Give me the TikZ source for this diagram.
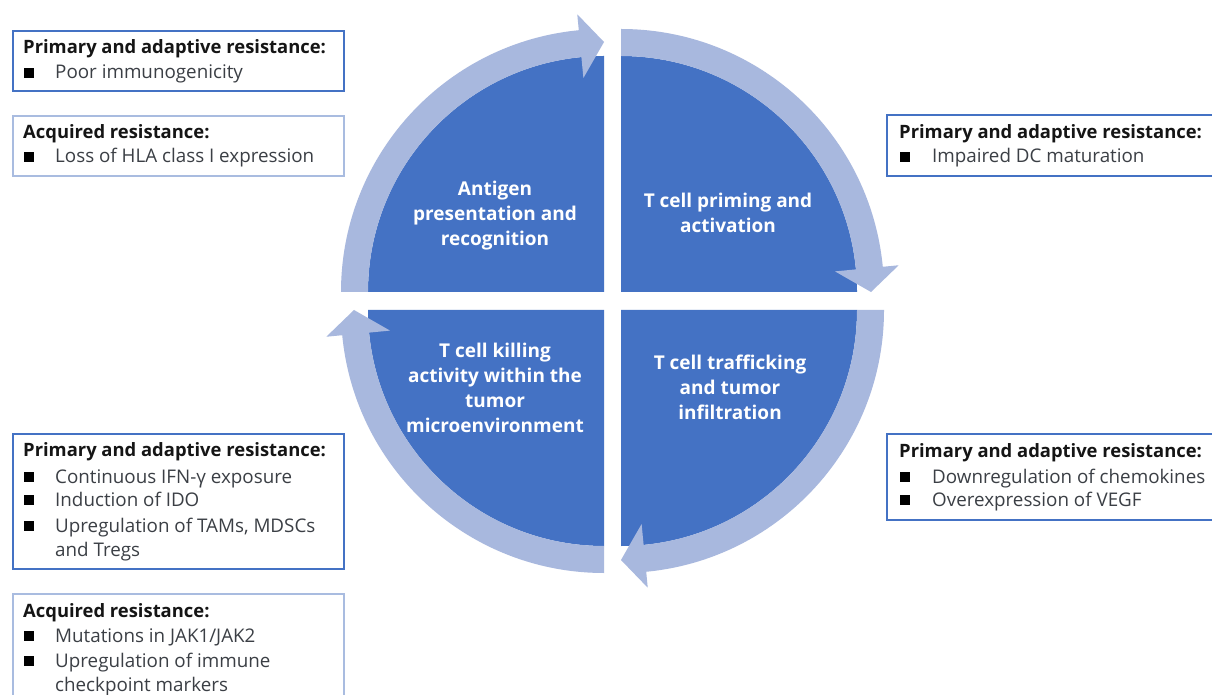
\documentclass[tikz,border=0pt]{standalone}
\usepackage{fontspec}
\setmainfont{Open Sans}
\definecolor{sectorblue}{HTML}{4472C4}
\definecolor{ringblue}{HTML}{A8B8DE}
\definecolor{boxdark}{HTML}{4472C4}
\definecolor{boxlight}{HTML}{A9BCE0}
\definecolor{itemgray}{HTML}{3B3F45}
\definecolor{titleblack}{HTML}{151515}

% curved ring segment of one quadrant, ending in an arrow head
% #1 centre, #2 start angle, #3 end angle (clockwise)
\newcommand\ringarrow[3]{%
  \pgfmathsetmacro\headbase{#3+5.5}%
  \fill[ringblue, shift={(#1)}]
    (#2:236pt) arc[start angle=#2, end angle=\headbase, radius=236pt]
    -- (\headbase:215pt) -- (#3:250pt) -- (\headbase:279pt)
    -- (\headbase:263pt) arc[start angle=\headbase, end angle=#2, radius=263pt]
    -- cycle;}

\begin{document}
\begin{tikzpicture}[x=1pt, y=1pt,
  box/.style={draw, line width=2pt, anchor=north west, inner sep=0pt},
  darkbox/.style={box, draw=boxdark},
  lightbox/.style={box, draw=boxlight},
  ttl/.style={anchor=base west, inner sep=0pt, text=titleblack,
    font=\fontsize{18.4}{20}\selectfont\bfseries},
  itm/.style={anchor=base west, inner sep=0pt, text=itemgray,
    font=\fontsize{18.8}{20}\selectfont},
  sq/.style={fill=black, minimum size=10pt, inner sep=0pt},
  stext/.style={align=center, text=white, inner sep=0pt,
    font=\fontsize{19}{25}\selectfont\bfseries}]

\useasboundingbox (0,0) rectangle (1212,694);
\clip (0,0) rectangle (1212,694);
\fill[white] (0,0) rectangle (1212,694);

% centres of the four quadrants
\coordinate (cTL) at (604,402);
\coordinate (cTR) at (621,402);
\coordinate (cBR) at (621,384);
\coordinate (cBL) at (604,384);

% quadrant sectors
\fill[sectorblue] (cTL) -- ++(180:236pt) arc[start angle=180, end angle=90, radius=236pt] -- cycle;
\fill[sectorblue] (cTR) -- ++(90:236pt) arc[start angle=90, end angle=0, radius=236pt] -- cycle;
\fill[sectorblue] (cBR) -- ++(0:236pt) arc[start angle=0, end angle=-90, radius=236pt] -- cycle;
\fill[sectorblue] (cBL) -- ++(-90:236pt) arc[start angle=-90, end angle=-180, radius=236pt] -- cycle;

% cycle arrows
\ringarrow{cTL}{180}{90}
\ringarrow{cTR}{90}{0}
\ringarrow{cBR}{0}{-90}
\ringarrow{cBL}{-90}{-180}

% quadrant labels
\node[stext] (sTL) at (495,478) {Antigen\\presentation and\\recognition};
\node[stext] (sTR) at (728,481) {T cell priming and\\activation};
\node[stext] (sBL) at (495,306) {T cell killing\\activity within the\\tumor\\microenvironment};
\node[stext] (sBR) at (730,307) {T cell trafficking\\and tumor\\infiltration};

% resistance boxes
\node[darkbox, minimum width=331pt, minimum height=60pt] (b1) at (12,664) {};
\node[lightbox, minimum width=331pt, minimum height=60pt] (b2) at (12,579) {};
\node[darkbox, minimum width=340pt, minimum height=61pt] (b3) at (886,580) {};
\node[darkbox, minimum width=331pt, minimum height=135pt] (b4) at (12,261) {};
\node[lightbox, minimum width=331pt, minimum height=120pt] (b5) at (12,101) {};
\node[darkbox, minimum width=340pt, minimum height=86pt] (b6) at (886,261) {};

% box 1
\node[ttl] (t1) at (23,640) {Primary and adaptive resistance:};
\node[sq] (q1a) at (29,621) {};
\node[itm] (i1a) at (55,615) {Poor immunogenicity};

% box 2
\node[ttl] (t2) at (23,555) {Acquired resistance:};
\node[sq] (q2a) at (29,537) {};
\node[itm] (i2a) at (55,531) {Loss of HLA class I expression};

% box 3
\node[ttl] (t3) at (899,555) {Primary and adaptive resistance:};
\node[sq] (q3a) at (905,537) {};
\node[itm] (i3a) at (932,531) {Impaired DC maturation};

% box 4
\node[ttl] (t4) at (23,238) {Primary and adaptive resistance:};
\node[sq] (q4a) at (29,217) {};
\node[itm] (i4a) at (55,211) {Continuous IFN-γ exposure};
\node[sq] (q4b) at (29,194) {};
\node[itm] (i4b) at (55,188) {Induction of IDO};
\node[sq] (q4c) at (29,168) {};
\node[itm] (i4c) at (55,162) {Upregulation of TAMs, MDSCs};
\node[itm] (i4d) at (55,138) {and Tregs};

% box 5
\node[ttl] (t5) at (23,77) {Acquired resistance:};
\node[sq] (q5a) at (29,58) {};
\node[itm] (i5a) at (55,52) {Mutations in JAK1/JAK2};
\node[sq] (q5b) at (29,33) {};
\node[itm] (i5b) at (55,27) {Upregulation of immune};
\node[itm] (i5c) at (55,3) {checkpoint markers};

% box 6
\node[ttl] (t6) at (899,237) {Primary and adaptive resistance:};
\node[sq] (q6a) at (905,217) {};
\node[itm] (i6a) at (932,211) {Downregulation of chemokines};
\node[sq] (q6b) at (905,194) {};
\node[itm] (i6b) at (932,188) {Overexpression of VEGF};
\end{tikzpicture}
\end{document}
